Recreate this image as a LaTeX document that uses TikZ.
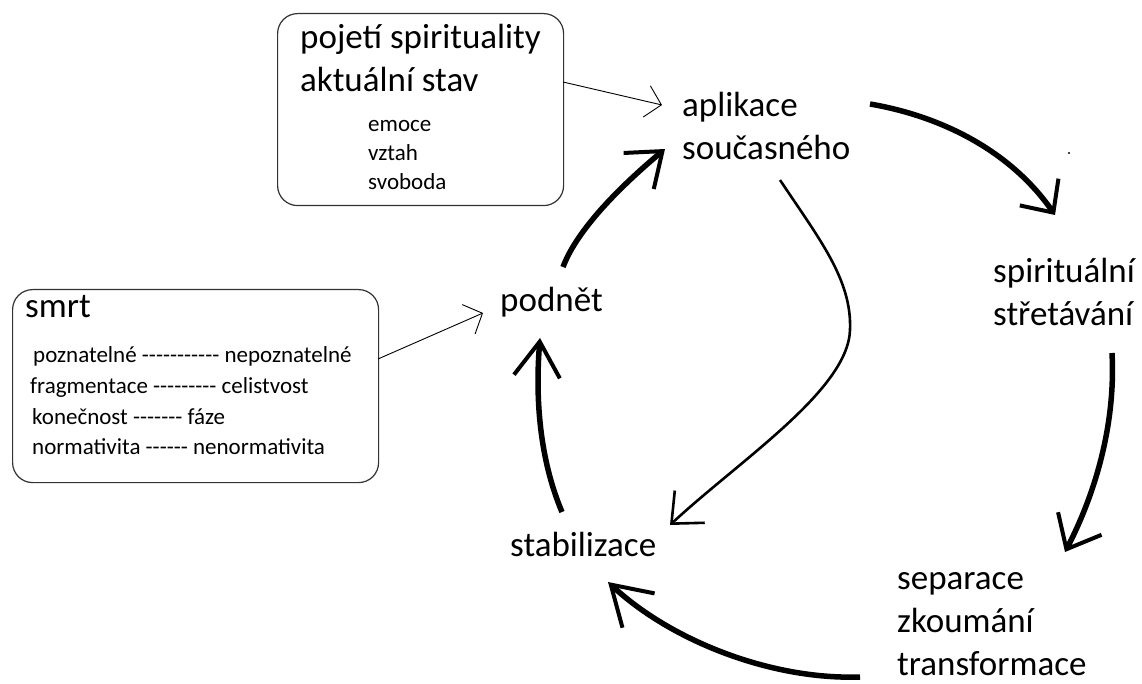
\documentclass[tikz,border=0pt]{standalone}
\usepackage{fontspec}
\setmainfont{Carlito}[Ligatures=TeXOff]
\usetikzlibrary{arrows.meta}
\begin{document}
\begin{tikzpicture}[x=1pt,y=-1pt,
  big/.style={font=\fontsize{35}{43}\selectfont, inner sep=0pt, anchor=base west, align=left},
  small/.style={font=\fontsize{23}{28}\selectfont, inner sep=0pt, anchor=base west, align=left},
  boxframe/.style={draw=black!80, line width=1.2pt, rounded corners=20pt, anchor=north west, inner sep=0pt},
  flow/.style={line width=5.5pt},
  flowthin/.style={line width=2.6pt},
  feed/.style={line width=0.9pt, -{Straight Barb[length=15pt,width=32pt,line width=0.9pt]}}
]
\useasboundingbox (0,0) rectangle (1142,684);

% boxes
\node[boxframe, minimum width=286pt, minimum height=192pt] (box1) at (277,13) {};
\node[boxframe, minimum width=366pt, minimum height=193pt] (box2) at (12,289) {};

% box 1 texts
\node[big] (t1a) at (300,49) {pojetí spirituality};
\node[big] (t1b) at (300,92) {aktuální stav};
\node[small] (t1c) at (368,132) {emoce};
\node[small] (t1d) at (368,161) {vztah};
\node[small] (t1e) at (368,190) {svoboda};

% box 2 texts
\node[big] (t2a) at (25,317) {smrt};
\node[small] (t2b) at (33,362) {poznatelné ----------- nepoznatelné};
\node[small] (t2c) at (30,393) {fragmentace --------- celistvost};
\node[small] (t2d) at (32,424) {konečnost ------- fáze};
\node[small] (t2e) at (32,454) {normativita ------ nenormativita};

% cycle labels (base anchor = baseline of last line)
\node[big] (apl) at (682,160) {aplikace\\současného};
\node[big] (spi) at (993,325) {spirituální\\střetávání};
\node[big] (sep) at (897,675) {separace\\zkoumání\\transformace};
\node[big] (sta) at (510,556) {stabilizace};
\node[big] (pod) at (500,312) {podnět};

% connector end points
\coordinate (b1s) at (563,82);   \coordinate (b1e) at (662,105);
\coordinate (b2s) at (378,359);  \coordinate (b2e) at (483,313);
\coordinate (a1s) at (870,104);  \coordinate (a1e) at (1055,215);
\coordinate (a2s) at (1112,353); \coordinate (a2e) at (1065,552);
\coordinate (a3s) at (860,677);  \coordinate (a3e) at (608,582);
\coordinate (a4s) at (562,512);  \coordinate (a4e) at (540,338);
\coordinate (a5s) at (563,267);  \coordinate (a5e) at (665,149);
\coordinate (ts)  at (780,180);  \coordinate (tm) at (850,330); \coordinate (te) at (670,525);

% thin feed arrows from boxes
\draw[feed] (b1s) -- (b1e);
\draw[feed] (b2s) -- (b2e);

% thick cycle arrows
\draw[flow, -{Straight Barb[length=25pt,width=47pt,line width=4pt]}]
  (a1s) .. controls (940,116) and (1010,150) .. (a1e);
\draw[flow, -{Straight Barb[length=29pt,width=49pt,line width=4pt]}]
  (a2s) .. controls (1116,430) and (1092,500) .. (a2e);
\draw[flow, -{Straight Barb[length=38pt,width=47pt,line width=4pt]}]
  (a3s) .. controls (770,680) and (670,640) .. (a3e);
\draw[flow, -{Straight Barb[length=35pt,width=46pt,line width=4pt]}]
  (a4s) .. controls (540,460) and (535,400) .. (a4e);
\draw[flow, -{Straight Barb[length=31pt,width=47pt,line width=4pt]}]
  (a5s) .. controls (575,235) and (610,195) .. (a5e);

% thin return arrow
\draw[flowthin, -{Straight Barb[length=25pt,width=44pt,line width=2.6pt]}]
  (ts) .. controls (820,240) and (852,280) .. (tm)
       .. controls (848,390) and (740,460) .. (te);

% stray dot
\fill (1069,153) circle (1.2pt);
\end{tikzpicture}
\end{document}
